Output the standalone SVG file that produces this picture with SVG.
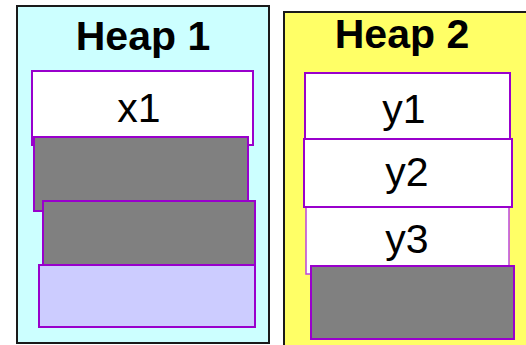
<svg xmlns="http://www.w3.org/2000/svg" width="526" height="345" viewBox="0 0 526 345">
<style>
.heap{stroke:#1a1a1a;stroke-width:2}
.blk{stroke:#9900cc;stroke-width:2}
.t{font-family:"Liberation Sans",Arial,sans-serif;font-size:41px;fill:#000;text-anchor:middle}
.title{font-weight:bold}
</style>
<rect width="526" height="345" fill="#ffffff"/>
<g id="heap1">
  <rect class="heap" x="17" y="6" width="252" height="337" fill="#ccffff"/>
  <text class="t title" x="143" y="50">Heap 1</text>
</g>
<g id="heap2">
  <rect class="heap" x="284" y="12" width="260" height="345" fill="#ffff66"/>
  <text class="t title" x="402" y="48">Heap 2</text>
</g>
<g id="x1">
  <rect class="blk" x="32" y="71" width="221" height="74" fill="#ffffff"/>
  <text class="t" x="139" y="122">x1</text>
</g>
<g id="h1block2">
  <rect class="blk" x="34" y="137" width="214" height="74" fill="#808080"/>
</g>
<g id="h1block3">
  <rect class="blk" x="43" y="201" width="212" height="70" fill="#808080"/>
</g>
<g id="h1block4">
  <rect class="blk" x="39" y="265" width="216" height="62" fill="#ccccff"/>
</g>
<g id="y1">
  <rect class="blk" x="305" y="73" width="205" height="70" fill="#ffffff"/>
  <text class="t" x="404" y="123">y1</text>
</g>
<g id="y3">
  <rect x="306" y="200" width="203" height="74" fill="#ffffff" stroke="#bb44dd" stroke-width="1.5"/>
  <text class="t" x="407" y="253">y3</text>
</g>
<g id="y2">
  <rect class="blk" x="304" y="139" width="208" height="68" fill="#ffffff"/>
  <text class="t" x="407" y="186">y2</text>
</g>
<g id="h2block4">
  <rect class="blk" x="311" y="266" width="203" height="73" fill="#808080"/>
</g>
<g id="connectors"></g>
</svg>
